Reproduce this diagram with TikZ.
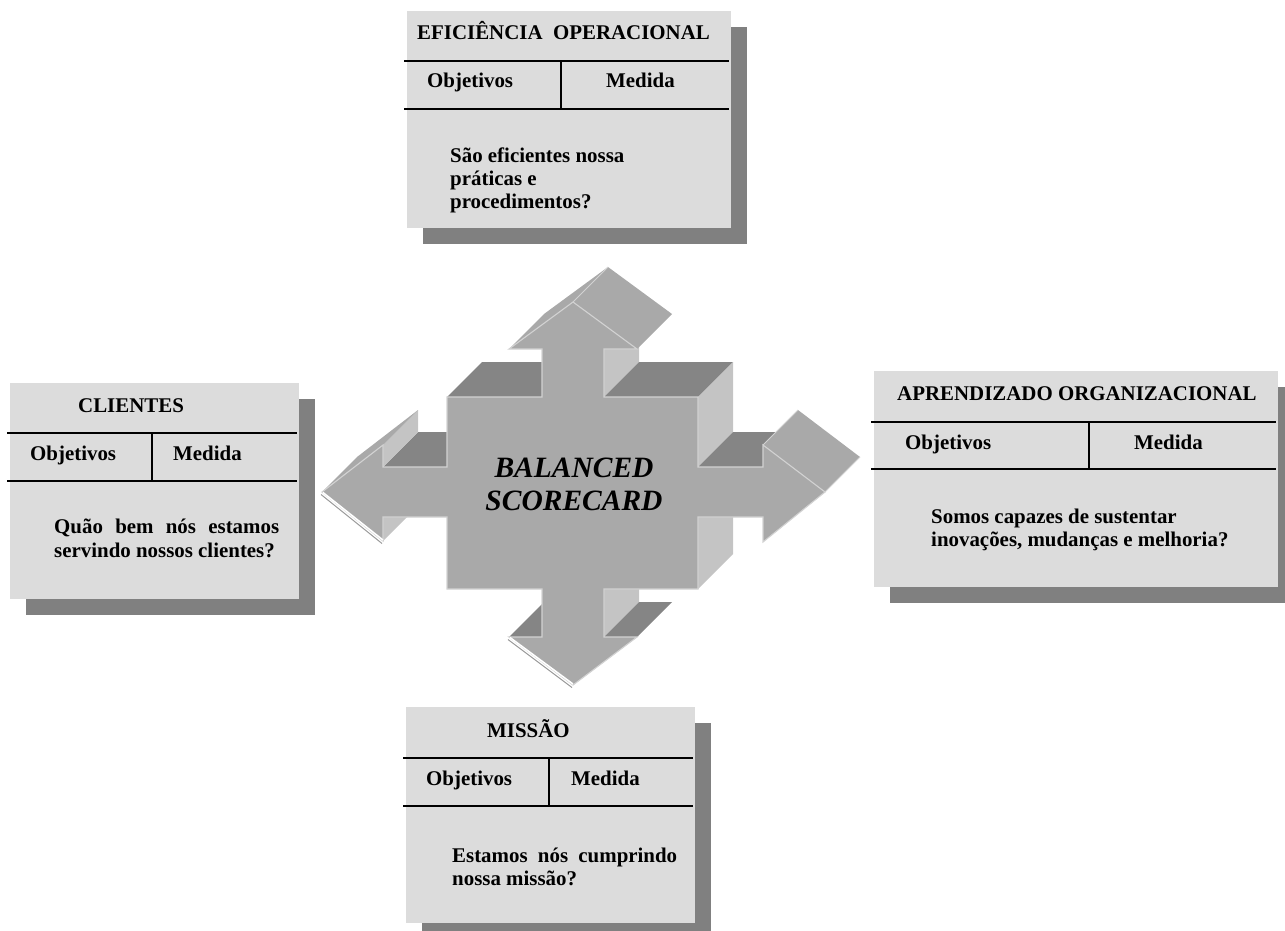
\documentclass[tikz,border=0pt]{standalone}
\usepackage{fontspec}
\setmainfont{Liberation Serif}
\definecolor{boxfill}{HTML}{DCDCDC}
\definecolor{boxshadow}{HTML}{808080}
\definecolor{arrowfront}{HTML}{A9A9A9}
\definecolor{arrowtop}{HTML}{858585}
\definecolor{arrowside}{HTML}{C4C4C4}
\definecolor{arrowedge}{HTML}{D2D2D2}
\definecolor{arrowrim}{HTML}{9A9A9A}

\tikzset{
  lbl/.style={anchor=base west, inner sep=0pt, font=\bfseries\fontsize{20.9}{23.5}\selectfont},
  bigtxt/.style={anchor=base, inner sep=0pt, font=\bfseries\itshape\fontsize{29.5}{33}\selectfont},
  rule/.style={line width=1.4pt, black},
  frontface/.style={fill=arrowfront, draw=arrowedge, line width=1.1pt, line join=miter},
  topface/.style={fill=arrowtop},
  sideface/.style={fill=arrowside},
  slantface/.style={fill=arrowfront},
}

% card with drop shadow: left, top, right, bottom, first rule, second rule, divider x
\newcommand\cardbox[7]{%
  \fill[boxshadow] (#1+16,#2+16) rectangle (#3+16,#4+16);
  \fill[boxfill] (#1,#2) rectangle (#3,#4);
  \draw[rule] (#1-3,#5) -- (#3-2,#5);
  \draw[rule] (#1-3,#6) -- (#3-2,#6);
  \draw[rule] (#7,#5) -- (#7,#6);
}

% extruded side face of the edge (x1,y1)--(x2,y2), depth (35,-35)
\newcommand\sidequad[5]{%
  \fill[#1] (#2,#3) -- (#4,#5) -- (#4+35,#5-35) -- (#2+35,#3-35) -- cycle;
}

\begin{document}
\begin{tikzpicture}[x=1pt, y=-1pt]
\useasboundingbox (0,0) rectangle (1285,931);
\clip (0,0) rectangle (1285,931);

% ---------- cards ----------
\cardbox{407}{11}{731}{228}{61}{109}{561}
\cardbox{10}{383}{299}{599}{433}{481}{152}
\cardbox{874}{371}{1278}{587}{422}{469}{1089}
\cardbox{406}{707}{695}{923}{758}{806}{549}

% top card
\node[lbl] (ef-title) at (417,40) {EFICIÊNCIA\ \ OPERACIONAL};
\node[lbl] (ef-obj) at (427,88) {Objetivos};
\node[lbl] (ef-med) at (606,88) {Medida};
\node[lbl] (ef-q1) at (450,162) {São eficientes nossa};
\node[lbl] (ef-q2) at (450,185) {práticas e};
\node[lbl] (ef-q3) at (450,208) {procedimentos?};

% left card
\node[lbl] (cl-title) at (78,412) {CLIENTES};
\node[lbl] (cl-obj) at (30,460) {Objetivos};
\node[lbl] (cl-med) at (173,460) {Medida};
\node[lbl] (cl-q1) at (54,533) {\makebox[225pt][s]{Quão bem nós estamos}};
\node[lbl] (cl-q2) at (54,557) {servindo nossos clientes?};

% right card
\node[lbl] (ap-title) at (897,400) {APRENDIZADO ORGANIZACIONAL};
\node[lbl] (ap-obj) at (905,449) {Objetivos};
\node[lbl] (ap-med) at (1134,449) {Medida};
\node[lbl] (ap-q1) at (931,523) {Somos capazes de sustentar};
\node[lbl] (ap-q2) at (931,546) {inovações, mudanças e melhoria?};

% bottom card
\node[lbl] (mi-title) at (487,737) {MISSÃO};
\node[lbl] (mi-obj) at (426,785) {Objetivos};
\node[lbl] (mi-med) at (571,785) {Medida};
\node[lbl] (mi-q1) at (452,862) {\makebox[225pt][s]{Estamos nós cumprindo}};
\node[lbl] (mi-q2) at (452,885) {nossa missão?};

% ---------- four-way 3D arrow ----------
% faces of the square and the shafts
\sidequad{sideface}{604}{349}{604}{397}
\sidequad{topface}{604}{397}{698}{397}
\sidequad{sideface}{698}{397}{698}{467}
\sidequad{topface}{698}{467}{763}{467}
\sidequad{sideface}{698}{517}{698}{589}
\sidequad{sideface}{604}{589}{604}{637}
\sidequad{topface}{383}{467}{447}{467}
\sidequad{topface}{447}{397}{542}{397}
% faces of the arrow heads
\sidequad{topface}{604}{637}{637}{637}
\sidequad{topface}{509}{637}{542}{637}
\sidequad{sideface}{383}{517}{383}{541}
\sidequad{sideface}{383}{445}{383}{467}
\sidequad{slantface}{322}{492}{383}{445}
\sidequad{slantface}{763}{445}{825}{492}
\sidequad{slantface}{509}{349}{573}{302}
\sidequad{slantface}{573}{302}{637}{349}
\draw[arrowedge, line width=1pt] (573,302) -- (608,267);
\draw[arrowedge, line width=1pt] (763,445) -- (798,410);
\draw[arrowedge, line width=1pt] (825,492) -- (860,457);

% front face
\path[frontface] (573,302) -- (637,349) -- (604,349) -- (604,397) -- (698,397)
  -- (698,467) -- (763,467) -- (763,445) -- (825,492) -- (763,542) -- (763,517)
  -- (698,517) -- (698,589) -- (604,589) -- (604,637) -- (637,637) -- (573,685)
  -- (509,637) -- (542,637) -- (542,589) -- (447,589) -- (447,517) -- (383,517)
  -- (383,541) -- (322,492) -- (383,445) -- (383,467) -- (447,467) -- (447,397)
  -- (542,397) -- (542,349) -- (509,349) -- cycle;

% bright rims on the lower left edges of the heads
\draw[arrowrim, line width=1pt] (321,494.5) -- (382,543.5);
\draw[white, line width=1.5pt] (323,492.5) -- (383,540);
\draw[arrowrim, line width=1pt] (508,639.5) -- (572,687.5);
\draw[white, line width=1.5pt] (510,637.5) -- (573,684);

\node[bigtxt] (bsc-a) at (574,477) {BALANCED};
\node[bigtxt] (bsc-b) at (574,510) {SCORECARD};
\end{tikzpicture}
\end{document}
